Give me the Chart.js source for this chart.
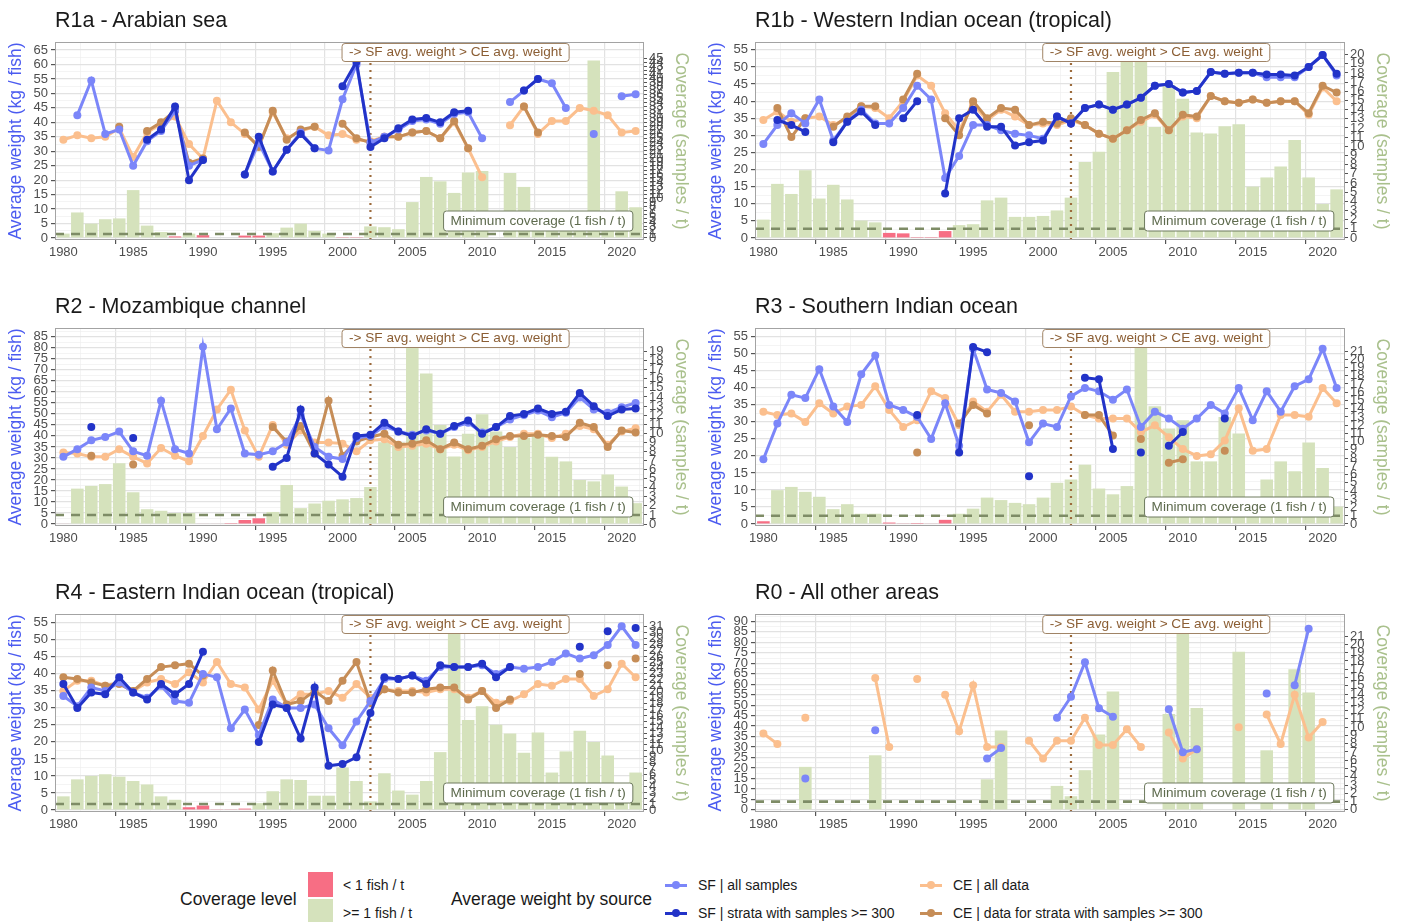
<!DOCTYPE html>
<html>
<head>
<meta charset="utf-8">
<script src="https://cdn.jsdelivr.net/npm/chart.js@4.4.1/dist/chart.umd.min.js"></script>
<style>
  body { margin: 0; background: #fff; font-family: "Liberation Sans", Arial, sans-serif; }
  #page { position: relative; width: 1403px; height: 922px; overflow: hidden; }
  .panel { position: absolute; }
  .ttl { position: absolute; font-size: 21.5px; line-height: 24px; color: #1a1a1a; white-space: nowrap; }
  .lg { position: absolute; white-space: nowrap; color: #1a1a1a; }
  .sw { position: absolute; }
</style>
</head>
<body>
<div id="page">
  <canvas class="panel" id="c1" width="702" height="286" style="left:0;top:0"></canvas>
  <canvas class="panel" id="c2" width="703" height="286" style="left:700px;top:0"></canvas>
  <canvas class="panel" id="c3" width="702" height="286" style="left:0;top:286px"></canvas>
  <canvas class="panel" id="c4" width="703" height="286" style="left:700px;top:286px"></canvas>
  <canvas class="panel" id="c5" width="702" height="286" style="left:0;top:572px"></canvas>
  <canvas class="panel" id="c6" width="703" height="286" style="left:700px;top:572px"></canvas>

  <div class="ttl" style="left:55px;top:8px">R1a - Arabian sea</div>
  <div class="ttl" style="left:755px;top:8px">R1b - Western Indian ocean (tropical)</div>
  <div class="ttl" style="left:55px;top:294px">R2 - Mozambique channel</div>
  <div class="ttl" style="left:755px;top:294px">R3 - Southern Indian ocean</div>
  <div class="ttl" style="left:55px;top:580px">R4 - Eastern Indian ocean (tropical)</div>
  <div class="ttl" style="left:755px;top:580px">R0 - All other areas</div>

  <!-- legend -->
  <div class="lg" style="left:180px;top:889px;font-size:17.5px">Coverage level</div>
  <div class="sw" style="left:308px;top:872px;width:25px;height:25px;background:#f76e84"></div>
  <div class="sw" style="left:308px;top:899px;width:25px;height:23px;background:#d5e2bc"></div>
  <div class="lg" style="left:343px;top:877px;font-size:14px">&lt; 1 fish / t</div>
  <div class="lg" style="left:343px;top:905px;font-size:14px">&gt;= 1 fish / t</div>
  <div class="lg" style="left:451px;top:889px;font-size:17.5px">Average weight by source</div>
  <div id="keys"></div>
</div>

<script>
const years = [
  1980, 1981, 1982, 1983, 1984, 1985, 1986, 1987, 1988, 1989,
  1990, 1991, 1992, 1993, 1994, 1995, 1996, 1997, 1998, 1999,
  2000, 2001, 2002, 2003, 2004, 2005, 2006, 2007, 2008, 2009,
  2010, 2011, 2012, 2013, 2014, 2015, 2016, 2017, 2018, 2019,
  2020, 2021
];

// R1a - Arabian sea
const r1aSfAll = [
  null, 42.5, 54.5, 36, 37.5, 25, 33.5, 37, 44, 25,
  27, null, null, 22, 33, 23, 30.5, 36.5, 31, 30.3,
  48, 60, 33, 35, 37.5, 40.5, 41, 39.5, 43, 43.5,
  34.5, null, 47, 51, 55, 53.5, 45, null, 36, null,
  49, 49.7
];
const r1aSfStrata = [
  null, null, null, null, null, null, 34, 37.5, 45.5, 20,
  27, null, null, 22, 35, 23, 30.5, 36, 31, null,
  52.5, 61, 31.5, 34.5, 38, 41, 41.5, 40, 43.5, 44,
  null, null, null, 51, 55, null, null, null, null, null,
  null, null
];
const r1aCeAll = [
  34, 35.5, 34.5, 35, 38, 28, 36.5, 39.5, 42, 32.5,
  27.5, 47.5, 40, 36, 32, 43.5, 34.5, 37, 38.5, 35.5,
  36, 34, 33.5, 35, 35, 36.5, 37, 34.5, 40, 31,
  21, null, 39, 45.5, 36, 40.5, 40.5, 45, 44, 42.5,
  36.5, 37
];
const r1aCeStrata = [
  null, null, null, null, 38.5, null, 37, 40, 44, 26,
  27.5, null, null, 36.5, 31.5, 44, 34, 37.5, 38.5, null,
  39.5, 34.5, 33, 35, 35, 36.5, 37, 34.5, 40.5, 31,
  null, null, null, 45.5, 36.5, null, null, null, null, null,
  null, null
];
const r1aCoverage = [
  1.1, 6.4, 3.6, 4.7, 4.9, 12.0, 3.1, 1.5, 0.4, 1.1,
  0.7, null, null, 0.6, 0.6, 1.2, 2.6, 3.6, 1.8, 1.1,
  0.2, 0.2, 2.9, 2.7, 2.2, 9.0, 15.3, 14.2, 11.3, 16.4,
  16.8, null, 16.3, 12.8, 3.5, 3.5, 3.0, 3.0, 44.5, 3.0,
  11.7, 7.7
];

// R1b - Western Indian ocean (tropical)
const r1bSfAll = [
  27.5, 33, 36.5, 33.5, 40.5, 28.5, 34, 37.5, 33.5, 33.5,
  38, 44.5, 40.5, 17.5, 24, 33, 33, 31.5, 30.5, 30,
  29, 35.5, 33.5, 38, 39, 37.5, 39, 41, 44.5, 45,
  42.5, 43, 48.5, 48, 48.3, 48.3, 47, 47, 47, 50,
  53.5, 47.5
];
const r1bSfStrata = [
  null, 34.5, 33, 31, null, 28, 34, 37, 33, null,
  35, 40, null, 13, 35, 37.5, 32.5, 32.5, 27, 28,
  28.5, 35.5, 33.5, 38, 39, 37.5, 39, 41, 44.5, 45,
  42.5, 43, 48.5, 48, 48.3, 48.3, 47.8, 47.8, 47.5, 50,
  53.5, 48
];
const r1bCeAll = [
  34.5, 37, 34, 35, 35.5, 33, 35, 38.5, 38, 35,
  40, 47.5, 44.5, 36.5, 31.5, 39, 34.5, 37.5, 35.5, 33,
  33.5, 33, 34.5, 33, 30.5, 29, 31.5, 34, 36, 31.5,
  35.5, 35, 41.5, 40, 39.5, 40.5, 39.5, 40, 40, 36,
  44, 40
];
const r1bCeStrata = [
  null, 38, 29.5, 35, null, 32.5, 35.5, 38.5, 38.5, null,
  40.5, 48, null, 35, 30, 40, 35, 38, 37.5, 33,
  34, 33.5, 35, 33, 30.5, 29, 31.5, 34.5, 36.5, 31.5,
  36, 35.5, 41.5, 40, 39.5, 40.5, 39.5, 40, 40, 36.5,
  44.5, 42.5
];
const r1bCoverage = [
  2.0, 5.9, 4.8, 7.4, 4.3, 5.8, 4.2, 1.9, 1.7, 0.55,
  0.5, 0.1, 0.1, 0.75, 1.4, 1.5, 4.1, 4.4, 2.3, 2.3,
  2.4, 3.0, 4.4, 8.3, 9.4, 18.1, 22, 24, 12.1, 16.7,
  15.2, 11.5, 11.4, 12.2, 12.4, 5.6, 6.6, 7.8, 10.7, 6.6,
  3.7, 5.3
];

// R2 - Mozambique channel
const r2SfAll = [
  30.5, 34, 38, 39.5, 42, 33, 31, 56, 34, 32,
  80.5, 43, 52.5, 32, 31.5, 33, 37, 49.5, 35, 30.5,
  29.5, 39, 40, 44.5, 42, 40.5, 42.5, 41, 44, 46,
  41.5, 44, 47.5, 49.5, 51.5, 48.5, 50.5, 57.5, 52, 50.5,
  53, 55
];
const r2SfStrata = [
  null, null, 44, null, null, 39, null, null, null, null,
  null, null, null, null, null, 26, 30, 52, 32, 27,
  21.5, 40, 40.5, 46, 42, 40, 43, 41, 44.5, 47,
  41, 44, 49, 50, 52.5, 50, 51, 59.5, 53.5, 49,
  52, 52.5
];
const r2CeAll = [
  32.5, 32, 30.5, 30.5, 34, 30.5, 27.5, 34.5, 31, 28.5,
  40, 52, 61, 42.5, 30.5, 45, 36, 42.5, 37, 37,
  36.5, 33, 38, 38.5, 35, 35.5, 36.5, 34, 36, 33.5,
  35, 37.5, 39.5, 41, 41, 39, 41, 44.5, 43, 36,
  42, 43.5
];
const r2CeStrata = [
  null, null, 31, null, null, 27, null, null, null, null,
  null, null, null, null, null, 44, 37.5, 44.5, 32, 56,
  31, 37.5, 39.5, 41, 36, 36.5, 38, 34, 37, 34,
  35.5, 38.5, 40, 40, 40.5, 40, 39.5, 46, 44, 35,
  42.5, 41.5
];
const r2Coverage = [
  0.05, 3.9, 4.2, 4.4, 6.7, 3.5, 1.63, 1.46, 1.21, 1.21,
  0.05, 0.05, 0.1, 0.44, 0.63, 1.33, 4.3, 1.75, 2.26, 2.57,
  2.72, 2.86, 4.08, 9.0, 9.0, 21.8, 16.6, 10.9, 7.45, 9.95,
  12.1, 10.2, 8.5, 9.5, 9.7, 7.4, 6.9, 4.85, 4.7, 5.46,
  4.13, 2.3
];

// R3 - Southern Indian ocean
const r3SfAll = [
  19, 29.5, 38, 37, 45.5, 34.5, 30, 44, 49.5, 35,
  33.5, 31.5, 25, 35.5, 23, 51.5, 39.5, 38.5, 36, 24,
  29.5, 28.5, 37.5, 40, 39, 36.5, 39.5, 28.5, 33, 31,
  28, 31, 35, 32.5, 40, 30.5, 39, 33, 40.5, 42.5,
  51.5, 40
];
const r3SfStrata = [
  null, null, null, null, null, null, null, null, null, null,
  null, 32, null, null, 21, 52, 50.5, null, null, 14,
  null, null, null, 43, 42.5, 22, null, 21, null, 23,
  27, null, null, 31, null, null, null, null, null, null,
  null, null
];
const r3CeAll = [
  33, 32, 32.5, 30, 35.5, 32.5, 34.5, 35, 40.5, 33.5,
  28.5, 30.5, 39, 37, 29, 36, 33, 38, 33, 33,
  33.5, 33.5, 34.5, 32, 31, 31, 31, 27, 29, 25.5,
  22, 20, 20.5, 24.5, 34, 21.5, 22, 32, 32, 31.5,
  40, 35.5
];
const r3CeStrata = [
  null, null, null, null, null, null, null, null, null, null,
  null, 21, null, null, 29.5, 35, 32.5, null, null, 29,
  null, null, null, 32, 32, 26, null, 25, null, 18,
  19, null, null, 21.5, null, null, null, null, null, null,
  null, null
];
const r3Coverage = [
  0.33, 4.1, 4.5, 3.9, 3.3, 1.8, 2.4, 1.24, 1.24, 0.17,
  0.08, 0.12, 0.05, 0.5, 1.24, 1.86, 3.2, 2.9, 2.56, 2.4,
  3.2, 5.0, 5.4, 7.2, 4.3, 3.6, 4.6, 24, 14.3, 11.6,
  12.6, 7.6, 7.6, 13, 11, 1.7, 5.4, 7.6, 6.4, 9.9,
  6.8, 2.1
];

// R4 - Eastern Indian ocean (tropical)
const r4SfAll = [
  33.5, 30.5, 36, 35, 37.5, 34.5, 33, 36.5, 32, 31.5,
  40, 39, 24, 29.5, 22, 32.5, 30, 30, 31, 24,
  19, 26, 32, 38.5, 38.5, 39.5, 38, 42, 42, 42,
  42.5, 40, 42, 41.5, 42, 43.5, 46, 44.5, 45.5, 48.5,
  54, 48.5
];
const r4SfStrata = [
  37, 30, 34.5, 34, 39, 34.5, 32.5, 37, 34, 37,
  46.5, null, null, null, 20, 31, 30, 21, 36, 13,
  13.5, 15.5, 28.5, 39, 38.5, 39.5, 37, 42.5, 42, 42,
  43, 39, 42, null, null, null, null, 48, null, 52.5,
  null, 53.5
];
const r4CeAll = [
  35, 38, 38, 36.5, 37.5, 35, 37.5, 38.5, 37, 40.5,
  37.5, 43.5, 37, 36, 29.5, 38, 31, 34, 34, 35,
  33, 37, 33, 35.5, 35, 35, 34.5, 35.5, 35.5, 33,
  35, 31.5, 32, 34, 37, 36.5, 38.5, 38.5, 33.5, 35.5,
  43, 39
];
const r4CeStrata = [
  39, 38.5, 37.5, 36.5, 37, 35, 38.5, 42, 42.5, 43,
  39.5, null, null, null, 25, 41, 31, 32, 35, 32,
  38, 43.5, 31.5, 35.5, 34.5, 34.5, 35.5, 36, 36, 32.5,
  35, 30, 32.5, null, null, null, null, 40, null, 42.5,
  null, 44.5
];
const r4Coverage = [
  2.3, 5.17, 5.75, 6.03, 5.63, 4.89, 4.31, 2.3, 1.72, 0.46,
  0.75, 0.05, 0.05, 0.23, 1.15, 3.16, 5.17, 5.06, 2.41, 2.41,
  7.18, 4.89, 1.44, 6.2, 3.28, 2.59, 4.89, 9.77, 33.3, 15.2,
  17.5, 14.4, 12.9, 9.66, 13.1, 6.32, 9.89, 13.4, 11.5, 9.2,
  2.87, 6.32
];

// R0 - All other areas
const r0SfAll = [
  null, null, null, 15, null, null, null, null, 38, null,
  null, null, null, null, null, null, 24.5, 29.5, null, null,
  null, 44, 54, 70.5, 48.5, 44.5, null, null, null, 48,
  27.5, 29, null, null, null, null, 55.5, null, 59.5, 86.5,
  null, null
];
const r0SfStrata = [
  null, null, null, null, null, null, null, null, null, null,
  null, null, null, null, null, null, null, null, null, null,
  null, null, null, null, null, null, null, null, null, null,
  null, null, null, null, null, null, null, null, null, null,
  null, null
];
const r0CeAll = [
  36.5, 31.5, null, 44, null, null, null, null, 63, 30,
  null, 62.5, null, 55, 37.5, 59.5, 30, 30, null, 33,
  24.5, 33, 33, 44, 31, 31, 38.5, 30, null, 37,
  24.5, 29, null, null, 39.5, null, 45.5, 31.5, 55, 34.5,
  42, null
];
const r0CeStrata = [
  null, null, null, null, null, null, null, null, null, null,
  null, null, null, null, null, null, null, null, null, null,
  null, null, null, null, null, null, null, null, null, null,
  null, null, null, null, null, null, null, null, null, null,
  null, null
];
const r0Coverage = [
  null, null, null, 5.2, null, null, null, null, 6.6, null,
  null, null, null, null, null, null, 3.7, 9.6, null, null,
  null, 2.9, 1.65, 4.8, 9.1, 14.3, null, null, null, 11.6,
  21.5, 12.3, null, null, 19.1, null, 7.2, null, 17, 14.2,
  null, null
];

// colours
const SF_ALL = '#7b86f9';
const SF_STRATA = '#2233c8';
const CE_ALL = '#fbbf8e';
const CE_STRATA = '#c68d57';
const LOW_COV = '#f76e84';
const OK_COV = '#d5e2bc';
const MAJOR_GRID = '#e2e2e2';
const MINOR_GRID = '#efefef';
const TICK_TXT = '#4d4d4d';
const FONT = '"Liberation Sans", Arial, sans-serif';

Chart.defaults.font.family = FONT;

const panels = [
  { id: 'c1', sfAll: r1aSfAll, sfStrata: r1aSfStrata, ceAll: r1aCeAll, ceStrata: r1aCeStrata, cov: r1aCoverage,
    yMin: -0.7, yMax: 67.8, yTop: 65, factor: 1.38, covTop: 45 },
  { id: 'c2', sfAll: r1bSfAll, sfStrata: r1bSfStrata, ceAll: r1bCeAll, ceStrata: r1bCeStrata, cov: r1bCoverage,
    yMin: -0.6, yMax: 57.3, yTop: 55, factor: 2.68, covTop: 20 },
  { id: 'c3', sfAll: r2SfAll, sfStrata: r2SfStrata, ceAll: r2CeAll, ceStrata: r2CeStrata, cov: r2Coverage,
    yMin: -0.9, yMax: 89, yTop: 85, factor: 4.12, covTop: 19 },
  { id: 'c4', sfAll: r3SfAll, sfStrata: r3SfStrata, ceAll: r3CeAll, ceStrata: r3CeStrata, cov: r3Coverage,
    yMin: -0.6, yMax: 57.6, yTop: 55, factor: 2.42, covTop: 21 },
  { id: 'c5', sfAll: r4SfAll, sfStrata: r4SfStrata, ceAll: r4CeAll, ceStrata: r4CeStrata, cov: r4Coverage,
    yMin: -0.6, yMax: 57.6, yTop: 55, factor: 1.74, covTop: 31 },
  { id: 'c6', sfAll: r0SfAll, sfStrata: r0SfStrata, ceAll: r0CeAll, ceStrata: r0CeStrata, cov: r0Coverage,
    yMin: -1.0, yMax: 93.5, yTop: 90, factor: 3.95, covTop: 21 }
];

// reference lines + text boxes + panel frame
const refMarks = {
  id: 'refMarks',
  afterDatasetDraw(chart, args) {
    if (args.meta.type !== 'bar') return;
    const { ctx, chartArea: a, scales } = chart;
    ctx.save();
    ctx.beginPath();
    ctx.rect(a.left, a.top, a.right - a.left, a.bottom - a.top);
    ctx.clip();
    // minimum coverage (1 fish / t)
    const yc = scales.y2.getPixelForValue(1);
    ctx.strokeStyle = '#7e8c66';
    ctx.lineWidth = 2.6;
    ctx.setLineDash([9, 7]);
    ctx.beginPath();
    ctx.moveTo(a.left, yc);
    ctx.lineTo(a.right, yc);
    ctx.stroke();
    // 2002 marker
    const xv = scales.x.getPixelForValue(2002);
    ctx.strokeStyle = '#9c6b3c';
    ctx.lineWidth = 2.2;
    ctx.setLineDash([2, 5]);
    ctx.beginPath();
    ctx.moveTo(xv, a.top);
    ctx.lineTo(xv, a.bottom);
    ctx.stroke();
    ctx.restore();
  },
  afterDraw(chart) {
    const { ctx, chartArea: a, scales } = chart;
    ctx.save();
    ctx.font = '13.6px ' + FONT;
    ctx.textBaseline = 'middle';
    ctx.textAlign = 'center';

    const t1 = '-> SF avg. weight > CE avg. weight';
    const w1 = ctx.measureText(t1).width + 14;
    const cx1 = scales.x.getPixelForValue(2008.1);
    ctx.fillStyle = '#fff';
    ctx.strokeStyle = '#a08466';
    ctx.lineWidth = 1;
    ctx.beginPath();
    ctx.roundRect(cx1 - w1 / 2, a.top + 1.5, w1, 18, 3);
    ctx.fill();
    ctx.stroke();
    ctx.fillStyle = '#8b5e34';
    ctx.fillText(t1, cx1, a.top + 10.5);

    const t2 = 'Minimum coverage (1 fish / t)';
    const w2 = ctx.measureText(t2).width + 14;
    const rx2 = scales.x.getPixelForValue(2020.8);
    const by2 = a.bottom - 9;
    ctx.fillStyle = '#fff';
    ctx.strokeStyle = '#6e7a5e';
    ctx.beginPath();
    ctx.roundRect(rx2 - w2, by2 - 20, w2, 20, 3);
    ctx.fill();
    ctx.stroke();
    ctx.fillStyle = '#5e6b4e';
    ctx.fillText(t2, rx2 - w2 / 2, by2 - 10);

    ctx.strokeStyle = '#a3a3a3';
    ctx.lineWidth = 1;
    ctx.strokeRect(a.left + 0.5, a.top + 0.5, a.right - a.left - 1, a.bottom - a.top - 1);
    ctx.restore();
  }
};

function points(values) {
  return years.map((yr, i) => ({ x: yr, y: values[i] }));
}

function lineSet(label, values, color, order) {
  return {
    type: 'line', label, data: points(values), yAxisID: 'y', order,
    borderColor: color, backgroundColor: color, pointBackgroundColor: color,
    borderWidth: 3, pointRadius: 4, pointBorderWidth: 0, tension: 0, spanGaps: false
  };
}

function stepTicks(from, to, step) {
  const out = [];
  for (let v = from; v <= to + 1e-9; v += step) out.push({ value: v });
  return out;
}

const isMajor = c => c.tick && c.tick.value % 5 === 0;

panels.forEach(p => {
  new Chart(document.getElementById(p.id), {
    type: 'bar',
    data: {
      datasets: [
        {
          type: 'bar', label: 'Coverage', data: points(p.cov), yAxisID: 'y2', order: 10,
          backgroundColor: p.cov.map(v => (v !== null && v < 1 ? LOW_COV : OK_COV)),
          borderWidth: 0, barPercentage: 0.9, categoryPercentage: 1
        },
        lineSet('CE | all data', p.ceAll, CE_ALL, 4),
        lineSet('CE | data for strata with samples >= 300', p.ceStrata, CE_STRATA, 3),
        lineSet('SF | all samples', p.sfAll, SF_ALL, 2),
        lineSet('SF | strata with samples >= 300', p.sfStrata, SF_STRATA, 1)
      ]
    },
    options: {
      responsive: false,
      animation: false,
      events: [],
      layout: { padding: { top: 42, left: 0, right: 0, bottom: 0 } },
      plugins: { legend: { display: false }, tooltip: { enabled: false } },
      scales: {
        x: {
          type: 'linear', min: 1979.4, max: 2021.6, offset: false,
          afterBuildTicks: s => { s.ticks = stepTicks(1980, 2020, 2.5); },
          afterFit: s => { s.height = 46; },
          border: { display: false },
          grid: {
            color: c => (isMajor(c) ? MAJOR_GRID : MINOR_GRID),
            lineWidth: c => (isMajor(c) ? 1.2 : 0.7),
            tickLength: 4,
            tickColor: c => (isMajor(c) ? '#555' : 'rgba(0,0,0,0)')
          },
          ticks: {
            autoSkip: false, maxRotation: 0, padding: 1, color: TICK_TXT, font: { size: 13 },
            callback: v => (v % 5 === 0 ? String(v) : '')
          }
        },
        y: {
          position: 'left', min: p.yMin, max: p.yMax,
          afterBuildTicks: s => { s.ticks = stepTicks(0, p.yMax, 2.5); },
          afterFit: s => { s.width = 55; },
          border: { display: false },
          grid: {
            color: c => (isMajor(c) ? MAJOR_GRID : MINOR_GRID),
            lineWidth: c => (isMajor(c) ? 1.2 : 0.7),
            tickLength: 4,
            tickColor: c => (isMajor(c) ? '#555' : 'rgba(0,0,0,0)')
          },
          ticks: {
            autoSkip: false, padding: 3, color: TICK_TXT, font: { size: 13 },
            callback: v => (v % 5 === 0 && v <= p.yTop ? String(v) : '')
          },
          title: {
            display: true, text: 'Average weight (kg / fish)', color: '#4b5bf0',
            font: { size: 17.5 }, padding: { top: 6, bottom: 0 }
          }
        },
        y2: {
          position: 'right', min: p.yMin / p.factor, max: p.yMax / p.factor,
          afterBuildTicks: s => { s.ticks = stepTicks(0, p.covTop, 1); },
          afterFit: s => { s.width = 58; },
          border: { display: false },
          grid: { drawOnChartArea: false, tickLength: 3, tickColor: '#555' },
          ticks: { autoSkip: false, padding: 2, color: TICK_TXT, font: { size: 13 } },
          title: {
            display: true, text: 'Coverage (samples / t)', color: '#a9c08c',
            font: { size: 17.5 }, padding: { top: 11, bottom: 0 }
          }
        }
      }
    },
    plugins: [refMarks]
  });
});

// legend keys (line + point)
const keys = [
  { label: 'SF | all samples', color: SF_ALL, left: 665, top: 885 },
  { label: 'SF | strata with samples >= 300', color: SF_STRATA, left: 665, top: 913 },
  { label: 'CE | all data', color: CE_ALL, left: 920, top: 885 },
  { label: 'CE | data for strata with samples >= 300', color: CE_STRATA, left: 920, top: 913 }
];
const keyBox = document.getElementById('keys');
keys.forEach(k => {
  keyBox.insertAdjacentHTML('beforeend',
    `<div class="sw" style="left:${k.left}px;top:${k.top - 1.5}px;width:22px;height:3px;background:${k.color}"></div>` +
    `<div class="sw" style="left:${k.left + 7}px;top:${k.top - 4}px;width:8px;height:8px;border-radius:50%;background:${k.color}"></div>` +
    `<div class="lg" style="left:${k.left + 33}px;top:${k.top - 8}px;font-size:14px">${k.label.replace(/>/g, '&gt;')}</div>`);
});
</script>
</body>
</html>
